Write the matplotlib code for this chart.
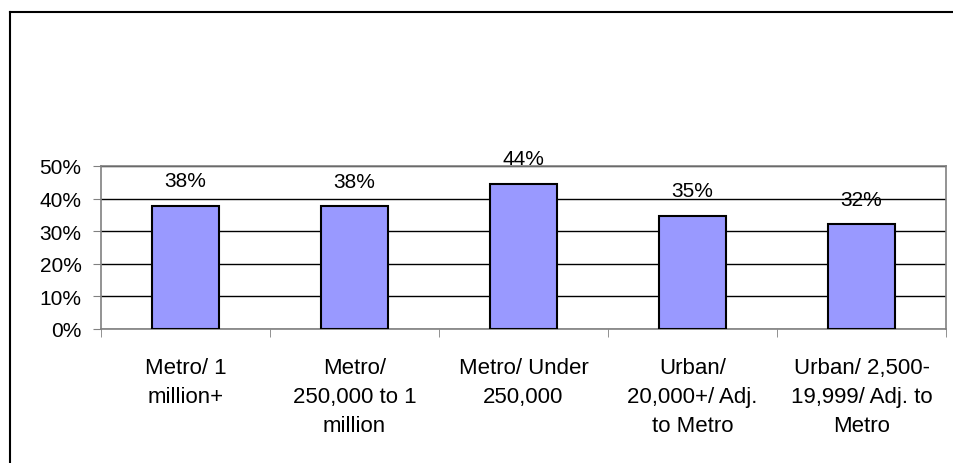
import numpy as np
import matplotlib.pyplot as plt
from matplotlib.lines import Line2D

plt.rcParams['font.family'] = ['Liberation Sans', 'DejaVu Sans']

categories = ['Metro/ 1\nmillion+', 'Metro/\n250,000 to 1\nmillion', 'Metro/ Under\n250,000',
              'Urban/\n20,000+/ Adj.\nto Metro', 'Urban/ 2,500-\n19,999/ Adj. to\nMetro']
values = [0.378, 0.376, 0.445, 0.347, 0.322]
labels = ['38%', '38%', '44%', '35%', '32%']

fig = plt.figure(figsize=(9.54, 4.64), dpi=100)
ax = fig.add_axes([101/954, 1-330/464, 845/954, 163/464])

x = np.arange(len(values))
ax.bar(x, values, width=0.40, color='#9999FF', edgecolor='black', linewidth=1.5, zorder=3)

for xi, v, lab in zip(x, values, labels):
    ax.annotate(lab, (xi, v), xytext=(0, 14), textcoords='offset points',
                ha='center', va='baseline', fontsize=15, clip_on=False, zorder=4)

ax.set_xlim(-0.5, 4.5)
ax.set_ylim(0, 0.5)
ticks = np.arange(0, 0.51, 0.1)
ax.set_yticks(ticks)
ax.set_yticklabels(['%d%%' % round(t*100) for t in ticks], fontsize=15)

ax.set_xticks(x)
ax.set_xticklabels(categories, fontsize=16, linespacing=1.52, va='top')
ax.set_xticks(np.arange(-0.5, 5, 1), minor=True)
ax.tick_params(axis='x', which='major', length=0, pad=20)
ax.tick_params(axis='x', which='minor', length=6, color='#808080', direction='out')
ax.tick_params(axis='y', length=6, color='#808080', direction='out', pad=8)

ax.yaxis.grid(True, color='black', linewidth=1)
ax.set_axisbelow(True)
for s in ax.spines.values():
    s.set_color('#808080')
    s.set_linewidth(1.2)

# outer frame: top and left edges only show inside the image
fig.lines.append(Line2D([10/954, 10/954], [0, 1-13/464], transform=fig.transFigure,
                        color='black', linewidth=1.5))
fig.lines.append(Line2D([10/954, 1], [1-13/464, 1-13/464], transform=fig.transFigure,
                        color='black', linewidth=1.5))

fig.savefig('out.png', dpi=100)
